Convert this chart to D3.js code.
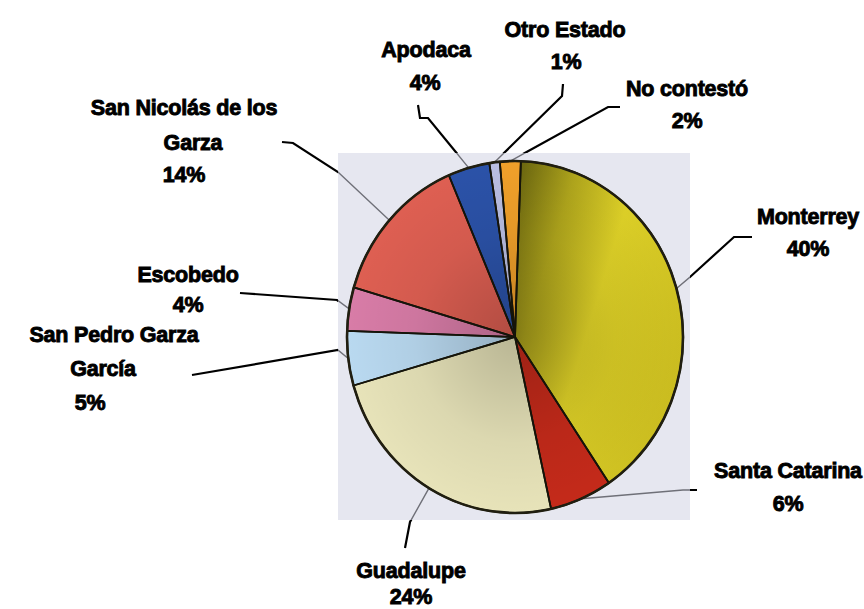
<!DOCTYPE html>
<html>
<head>
<meta charset="utf-8">
<script src="https://cdn.jsdelivr.net/npm/d3@7/dist/d3.min.js"></script>
<style>
  html, body { margin: 0; padding: 0; background: #fff; }
  svg { display: block; }
  .lbl { font-family: "Liberation Sans", Arial, sans-serif; font-weight: bold; font-size: 21.5px;
         fill: #000; stroke: #000; stroke-width: 0.9px; letter-spacing: -0.2px; }
</style>
</head>
<body>
<svg id="chart" width="864" height="609"></svg>
<script>
(function(){
    'use strict';

    // data, clockwise from 12 o'clock
    var categories = ['Monterrey', 'Santa Catarina', 'Guadalupe', 'San Pedro Garza García',
        'Escobedo', 'San Nicolás de los Garza', 'Apodaca', 'Otro Estado', 'No contestó'];
    var values = [40, 6, 24, 5, 4, 14, 4, 1, 2];
    var labelLines = [['Monterrey'], ['Santa Catarina'], ['Guadalupe'], ['San Pedro Garza', 'García'],
        ['Escobedo'], ['San Nicolás de los', 'Garza'], ['Apodaca'], ['Otro Estado'], ['No contestó']];
    var colors = ['url(#gMty)', '#c42a1a', '#e7e3b9', '#b9d9f0', '#d87ca7', '#de5f52', '#2b52a8', '#b9bee2', '#f0a02a'];

    var width = 864, height = 609;
    var cx = 515, cy = 337, rx = 168, ry = 176, r = 172;
    var box = {x: 338, y: 153, w: 352, h: 367};

    function toRadians(degs) { return Math.PI * degs / 180; }

    // label layout: centre x of each line, baselines, leader points (label side)
    var layout = [
        {x: [808, 808], y: [224, 256], lead: [[752, 237], [734, 237], [690, 277]]},
        {x: [788, 788], y: [478, 511], lead: [[697, 490], [683, 490]]},
        {x: [411, 411], y: [578, 604], lead: [[405, 548], [410, 522]]},
        {x: [114, 103, 90], y: [342, 376, 410], lead: [[192, 375], [338, 350]]},
        {x: [188, 188], y: [282, 312], lead: [[240, 293], [337, 300]]},
        {x: [184, 193, 184], y: [115, 150, 182], lead: [[282, 142], [293, 143], [338, 172]]},
        {x: [426, 425], y: [57, 90], lead: [[418, 105], [420, 118], [428, 118]]},
        {x: [565, 566], y: [37, 69], lead: [[563, 84], [562, 96]]},
        {x: [687, 687], y: [96, 128], lead: [[620, 107], [608, 107]]}
    ];

    var svg = d3.select('#chart');
    var defs = svg.append('defs');

    var gM = defs.append('linearGradient').attr('id', 'gMty')
        .attr('x1', 0).attr('y1', 0).attr('x2', 1).attr('y2', 0.6);
    gM.append('stop').attr('offset', '0').attr('stop-color', '#625e0e');
    gM.append('stop').attr('offset', '0.28').attr('stop-color', '#aea41c');
    gM.append('stop').attr('offset', '0.55').attr('stop-color', '#dccf27');
    gM.append('stop').attr('offset', '1').attr('stop-color', '#cbbd20');

    var gShade = defs.append('radialGradient').attr('id', 'gShade')
        .attr('cx', 0.5).attr('cy', 0.5).attr('r', 0.5);
    gShade.append('stop').attr('offset', '0').attr('stop-color', '#000').attr('stop-opacity', 0.2);
    gShade.append('stop').attr('offset', '0.6').attr('stop-color', '#000').attr('stop-opacity', 0.05);
    gShade.append('stop').attr('offset', '1').attr('stop-color', '#000').attr('stop-opacity', 0);

    defs.append('clipPath').attr('id', 'boxClip').append('rect')
        .attr('x', box.x).attr('y', box.y).attr('width', box.w).attr('height', box.h);

    var offset = 2;
    var pie = d3.pie().sort(null).value(function(d) { return d; })
        .startAngle(toRadians(offset)).endAngle(toRadians(360 + offset));
    var arcs = pie(values);

    var arc = d3.arc().innerRadius(0).outerRadius(r);

    function edgePoint(a) {
        return [cx + Math.sin(a) * rx, cy - Math.cos(a) * ry];
    }

    var leaderData = arcs.map(function(d, i) {
        var mid = (d.startAngle + d.endAngle) / 2;
        return layout[i].lead.concat([edgePoint(mid)]);
    });
    var line = d3.line();

    // black leader lines (outside the box)
    svg.append('g').selectAll('path').data(leaderData).enter().append('path')
        .attr('d', line).attr('fill', 'none').attr('stroke', '#000').attr('stroke-width', 2.2);

    // scanned background box
    svg.append('rect').attr('x', box.x).attr('y', box.y).attr('width', box.w).attr('height', box.h)
        .attr('fill', '#e6e7f0');

    // leader lines inside the box are thin grey
    svg.append('g').attr('clip-path', 'url(#boxClip)').selectAll('path').data(leaderData).enter().append('path')
        .attr('d', line).attr('fill', 'none').attr('stroke', '#6f7078').attr('stroke-width', 1.4);

    var pieG = svg.append('g')
        .attr('transform', 'translate(' + cx + ',' + cy + ') scale(' + (rx / r) + ',' + (ry / r) + ')');

    pieG.selectAll('path.slice').data(arcs).enter().append('path')
        .attr('class', 'slice')
        .attr('d', arc)
        .attr('fill', function(d, i) { return colors[i]; });

    pieG.append('circle').attr('r', r).attr('fill', 'url(#gShade)');

    pieG.selectAll('path.edge').data(arcs).enter().append('path')
        .attr('class', 'edge')
        .attr('d', arc)
        .attr('fill', 'none')
        .attr('stroke', '#15140a')
        .attr('stroke-width', 1.8)
        .attr('stroke-linejoin', 'round')
        .attr('vector-effect', 'non-scaling-stroke');

    pieG.append('circle').attr('r', r).attr('fill', 'none')
        .attr('stroke', '#201e10').attr('stroke-width', 2.6)
        .attr('vector-effect', 'non-scaling-stroke');

    // labels
    var labels = svg.append('g').selectAll('text').data(arcs).enter().append('text')
        .attr('class', 'lbl')
        .attr('text-anchor', 'middle');

    labels.each(function(d, i) {
        var t = d3.select(this);
        var rows = labelLines[i].concat([values[i] + '%']);
        rows.forEach(function(s, k) {
            t.append('tspan')
                .attr('x', layout[i].x[k])
                .attr('y', layout[i].y[k])
                .text(s);
        });
    });
})();
</script>
</body>
</html>
